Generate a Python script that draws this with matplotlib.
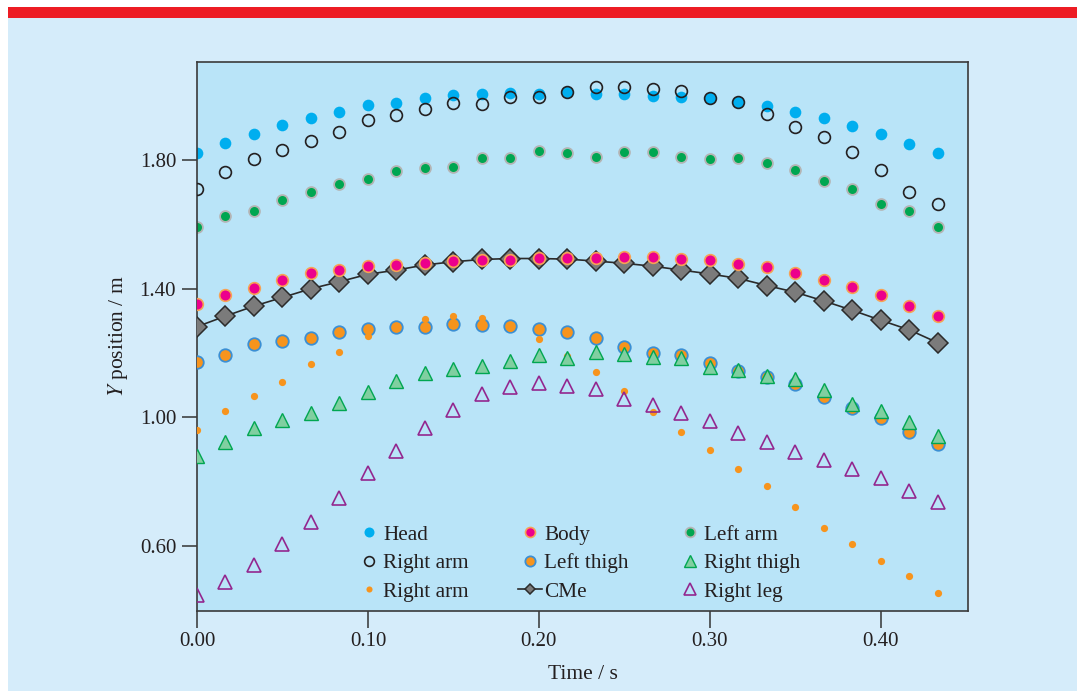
import matplotlib
matplotlib.use("Agg")
import matplotlib.pyplot as plt
from matplotlib.patches import Rectangle

# Time samples (60 frames per second)
frames = list(range(27))
time = [f / 60 for f in frames]

head = [1.821, 1.852, 1.881, 1.909, 1.930, 1.951, 1.971, 1.979, 1.994, 2.002,
        2.007, 2.010, 2.007, 2.012, 2.007, 2.004, 2.000, 1.997, 1.992, 1.981,
        1.968, 1.949, 1.930, 1.906, 1.881, 1.851, 1.821]
right_arm_open = [1.709, 1.764, 1.804, 1.831, 1.860, 1.887, 1.924, 1.940, 1.958, 1.976,
                  1.974, 1.997, 1.997, 2.012, 2.026, 2.026, 2.020, 2.014, 1.992, 1.981,
                  1.942, 1.902, 1.871, 1.825, 1.769, 1.701, 1.665]
left_arm = [1.593, 1.626, 1.642, 1.676, 1.701, 1.725, 1.742, 1.766, 1.774, 1.777,
            1.805, 1.808, 1.828, 1.821, 1.809, 1.825, 1.825, 1.809, 1.803, 1.807,
            1.792, 1.769, 1.735, 1.709, 1.662, 1.641, 1.593]
body = [1.351, 1.379, 1.403, 1.427, 1.448, 1.458, 1.470, 1.474, 1.479, 1.485,
        1.488, 1.488, 1.495, 1.495, 1.496, 1.498, 1.498, 1.493, 1.488, 1.477,
        1.467, 1.450, 1.427, 1.404, 1.379, 1.347, 1.316]
cme = [1.282, 1.315, 1.346, 1.373, 1.400, 1.422, 1.445, 1.458, 1.474, 1.484,
       1.491, 1.494, 1.494, 1.492, 1.486, 1.479, 1.470, 1.458, 1.446, 1.432,
       1.410, 1.389, 1.362, 1.333, 1.302, 1.272, 1.232]
left_thigh = [1.171, 1.195, 1.227, 1.236, 1.248, 1.264, 1.275, 1.281, 1.282, 1.290,
              1.287, 1.285, 1.275, 1.265, 1.246, 1.220, 1.199, 1.194, 1.170, 1.145,
              1.125, 1.103, 1.064, 1.030, 0.999, 0.955, 0.916]
right_arm_small = [0.961, 1.021, 1.066, 1.110, 1.166, 1.204, 1.253, 1.280, 1.305, 1.315,
                   1.308, 1.277, 1.243, 1.192, 1.142, 1.082, 1.016, 0.954, 0.899, 0.840,
                   0.787, 0.720, 0.656, 0.605, 0.553, 0.506, 0.455]
right_thigh = [0.881, 0.922, 0.968, 0.992, 1.015, 1.046, 1.080, 1.113, 1.139, 1.150,
               1.160, 1.175, 1.194, 1.184, 1.204, 1.196, 1.187, 1.185, 1.157, 1.147,
               1.129, 1.118, 1.085, 1.042, 1.021, 0.987, 0.942]
right_leg = [0.448, 0.489, 0.541, 0.605, 0.676, 0.750, 0.828, 0.896, 0.968, 1.023,
             1.072, 1.093, 1.106, 1.097, 1.087, 1.057, 1.038, 1.014, 0.989, 0.950,
             0.922, 0.893, 0.867, 0.840, 0.811, 0.772, 0.736]

x_ticks = [0.0, 0.1, 0.2, 0.3, 0.4]
y_ticks = [0.6, 1.0, 1.4, 1.8]

plt.rcParams["font.family"] = ["Liberation Serif", "DejaVu Serif"]
plt.rcParams["mathtext.fontset"] = "stix"

fig = plt.figure(figsize=(10.77, 6.91), dpi=100)
fig.patch.set_facecolor("white")
# light blue panel and red band on top
fig.patches.append(Rectangle((8 / 1077, 0), 1, 673 / 691, transform=fig.transFigure,
                             facecolor="#d5ecfa", edgecolor="none", zorder=-10))
fig.patches.append(Rectangle((8 / 1077, 673 / 691), 1, 11 / 691, transform=fig.transFigure,
                             facecolor="#ed1c24", edgecolor="none", zorder=-10))

ax = fig.add_axes([197 / 1077, 1 - 611 / 691, 771 / 1077, 549 / 691])
ax.set_facecolor("#b9e4f8")

h_head, = ax.plot(time, head, ls="none", marker="o", ms=8.4, mfc="#00aeef", mec="#00aeef",
                  mew=0, label="Head", zorder=2)
h_rao, = ax.plot(time, right_arm_open, ls="none", marker="o", ms=8.5, mfc="none", mec="#231f20",
                 mew=1.2, label="Right arm", zorder=3)
h_la, = ax.plot(time, left_arm, ls="none", marker="o", ms=7.8, mfc="#00a651", mec="#b4b4b4",
                mew=1.3, label="Left arm", zorder=2)
h_cme, = ax.plot(time, cme, color="#2b2b2b", lw=1.2, marker="D", ms=10, mfc="#7b7b7b",
                 mec="#2b2b2b", mew=1.1, label="CMe", zorder=3)
h_body, = ax.plot(time, body, ls="none", marker="o", ms=8.4, mfc="#ec008c", mec="#f7a254",
                  mew=1.2, label="Body", zorder=4)
h_lt, = ax.plot(time, left_thigh, ls="none", marker="o", ms=9, mfc="#f7941d", mec="#3b8fd4",
                mew=1.3, label="Left thigh", zorder=4)
h_ras, = ax.plot(time, right_arm_small, ls="none", marker="o", ms=5.2, mfc="#f7941d",
                 mec="#f7941d", mew=0, label="Right arm", zorder=5)
h_rt, = ax.plot(time, right_thigh, ls="none", marker="^", ms=9.5, mfc="#80cfa0", mec="#00a651",
                mew=1.0, label="Right thigh", zorder=6)
h_rl, = ax.plot(time, right_leg, ls="none", marker="^", ms=9.5, mfc="none", mec="#93278f",
                mew=1.2, label="Right leg", zorder=6)

ax.set_xlim(0, 0.451)
ax.set_ylim(0.398, 2.105)
ax.set_xticks(x_ticks)
ax.set_xticklabels([f"{v:.2f}" for v in x_ticks])
ax.set_yticks(y_ticks)
ax.set_yticklabels([f"{v:.2f}" for v in y_ticks])
ax.tick_params(axis="x", direction="out", length=12, width=1.1, color="#333333",
               labelsize=15, labelcolor="#231f20", pad=3)
ax.tick_params(axis="y", direction="out", length=11, width=1.1, color="#333333",
               labelsize=15, labelcolor="#231f20", pad=4)
for sp in ax.spines.values():
    sp.set_color("#3a3a3a")
    sp.set_linewidth(1.2)

ax.set_xlabel("Time / s", fontsize=15.5, color="#231f20", labelpad=10)
ax.set_ylabel("$Y$ position / m", fontsize=15.5, color="#231f20", labelpad=7)

handles = [h_head, h_rao, h_ras, h_body, h_lt, h_cme, h_la, h_rt, h_rl]
leg = ax.legend(handles=handles, ncol=3, loc="lower left", bbox_to_anchor=(0.188, -0.01),
                frameon=False, fontsize=15.3, handlelength=1.13, handletextpad=0.12,
                columnspacing=2.3, labelspacing=0.4, borderaxespad=0.3,
                labelcolor="#231f20")
# legend symbols are drawn smaller than the data marks
legend_sizes = [7.2, 7.0, 4.4, 7.2, 7.4, 5.6, 7.0, 8.0, 8.0]
for lh, size in zip(leg.legend_handles, legend_sizes):
    lh.set_markersize(size)

fig.savefig("out.png", dpi=100)
